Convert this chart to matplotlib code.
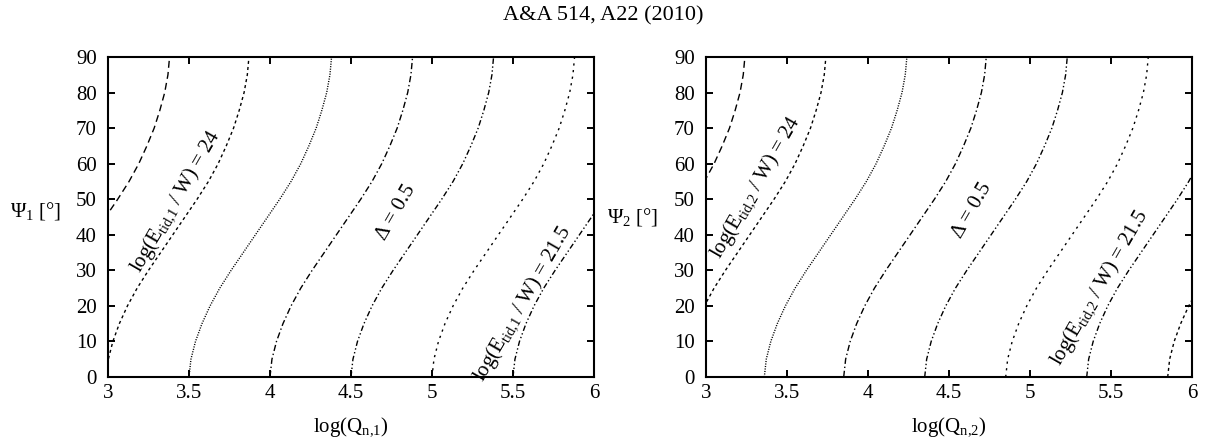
import matplotlib
matplotlib.use('Agg')
import matplotlib.pyplot as plt

plt.rcParams['font.family'] = ['Liberation Serif', 'DejaVu Serif']
plt.rcParams['mathtext.default'] = 'regular'
plt.rcParams['font.size'] = 15

# angle grid shared by all contour lines (deg)
psi = [0, 5, 10, 15, 20, 25, 30, 35, 40, 45, 50, 55, 60, 65, 70, 75, 80, 85, 90]

# left panel, log(Q_n,1)
left_a = [2.50, 2.512, 2.54, 2.58, 2.63, 2.69, 2.76, 2.835, 2.91, 2.985,
          3.06, 3.13, 3.19, 3.24, 3.285, 3.32, 3.35, 3.37, 3.38]
left_b = [2.99, 3.002, 3.03, 3.07, 3.12, 3.18, 3.25, 3.325, 3.40, 3.475,
          3.55, 3.62, 3.68, 3.73, 3.775, 3.81, 3.84, 3.86, 3.87]
left_c = [3.50, 3.512, 3.54, 3.58, 3.63, 3.69, 3.76, 3.835, 3.91, 3.985,
          4.06, 4.13, 4.19, 4.24, 4.285, 4.32, 4.35, 4.37, 4.38]
left_d = [4.00, 4.012, 4.04, 4.08, 4.13, 4.19, 4.26, 4.335, 4.41, 4.485,
          4.56, 4.63, 4.69, 4.74, 4.785, 4.82, 4.85, 4.87, 4.88]
left_e = [4.50, 4.512, 4.54, 4.58, 4.63, 4.69, 4.76, 4.835, 4.91, 4.985,
          5.06, 5.13, 5.19, 5.24, 5.285, 5.32, 5.35, 5.37, 5.38]
left_f = [5.00, 5.012, 5.04, 5.08, 5.13, 5.19, 5.26, 5.335, 5.41, 5.485,
          5.56, 5.63, 5.69, 5.74, 5.785, 5.82, 5.85, 5.87, 5.88]
left_g = [5.50, 5.512, 5.54, 5.58, 5.63, 5.69, 5.76, 5.835, 5.91, 5.985, 6.06]

# right panel, log(Q_n,2)
right_a = [2.36, 2.372, 2.40, 2.44, 2.49, 2.55, 2.62, 2.695, 2.77, 2.845,
           2.92, 2.99, 3.05, 3.10, 3.145, 3.18, 3.21, 3.23, 3.24]
right_b = [2.86, 2.872, 2.90, 2.94, 2.99, 3.05, 3.12, 3.195, 3.27, 3.345,
           3.42, 3.49, 3.55, 3.60, 3.645, 3.68, 3.71, 3.73, 3.74]
right_c = [3.36, 3.372, 3.40, 3.44, 3.49, 3.55, 3.62, 3.695, 3.77, 3.845,
           3.92, 3.99, 4.05, 4.10, 4.145, 4.18, 4.21, 4.23, 4.24]
right_d = [3.85, 3.862, 3.89, 3.93, 3.98, 4.04, 4.11, 4.185, 4.26, 4.335,
           4.41, 4.48, 4.54, 4.59, 4.635, 4.67, 4.70, 4.72, 4.73]
right_e = [4.35, 4.362, 4.39, 4.43, 4.48, 4.54, 4.61, 4.685, 4.76, 4.835,
           4.91, 4.98, 5.04, 5.09, 5.135, 5.17, 5.20, 5.22, 5.23]
right_f = [4.85, 4.862, 4.89, 4.93, 4.98, 5.04, 5.11, 5.185, 5.26, 5.335,
           5.41, 5.48, 5.54, 5.59, 5.635, 5.67, 5.70, 5.72, 5.73]
right_g = [5.35, 5.362, 5.39, 5.43, 5.48, 5.54, 5.61, 5.685, 5.76, 5.835,
           5.91, 5.98, 6.04]
right_h = [5.85, 5.862, 5.89, 5.93, 5.98, 6.04]

x_ticks = [3, 3.5, 4, 4.5, 5, 5.5, 6]
x_tick_labels = ['3', '3.5', '4', '4.5', '5', '5.5', '6']
y_ticks = [0, 10, 20, 30, 40, 50, 60, 70, 80, 90]

# gnuplot-like line types
styles = {
    'dash': (0, (5, 3)),
    'short': (0, (2.2, 2.2)),
    'dot': (0, (0.8, 1.0)),
    'dashdot': (0, (4.5, 2, 1, 2)),
    'dashdotdot': (0, (4, 1.8, 1, 1.8, 1, 1.8)),
    'sparse': (0, (1.6, 3.2)),
}

left_lines = [(left_a, 'dash'), (left_b, 'short'), (left_c, 'dot'), (left_d, 'dashdot'),
              (left_e, 'dashdotdot'), (left_f, 'sparse'), (left_g, 'dashdotdot')]
right_lines = [(right_a, 'dash'), (right_b, 'short'), (right_c, 'dot'), (right_d, 'dashdot'),
               (right_e, 'dashdotdot'), (right_f, 'sparse'), (right_g, 'dashdotdot'),
               (right_h, 'short')]

fig = plt.figure(figsize=(12.06, 4.41), dpi=100)
fig.text(0.5, 1 - 16 / 441, 'A&A 514, A22 (2010)', ha='center', va='center', fontsize=16)

ax1 = fig.add_axes([108 / 1206, 64 / 441, 486 / 1206, 320 / 441])
ax2 = fig.add_axes([706 / 1206, 64 / 441, 486 / 1206, 320 / 441])


def setup(ax, idx):
    ax.set_xlim(3, 6)
    ax.set_ylim(0, 90)
    ax.set_xticks(x_ticks)
    ax.set_xticklabels(x_tick_labels)
    ax.set_yticks(y_ticks)
    ax.tick_params(direction='in', length=5, width=1.4, top=True, right=True,
                   labelsize=15)
    ax.tick_params(axis='y', pad=8)
    ax.tick_params(axis='x', pad=5)
    for sp in ax.spines.values():
        sp.set_linewidth(1.5)
    ax.set_xlabel(f'log(Q$_{{n{{,}}{idx}}}$)', fontsize=15, va='center')
    ax.xaxis.set_label_coords(0.5, -0.156)
    ax.set_ylabel(f'Ψ$_{idx}$ [°]', fontsize=15, rotation=0, ha='center', va='center')


setup(ax1, 1)
setup(ax2, 2)
ax1.yaxis.set_label_coords(-0.148, 0.52)
ax2.yaxis.set_label_coords(-0.15, 0.5)

for xs, st in left_lines:
    ax1.plot(xs, psi[:len(xs)], color='black', lw=1.0, linestyle=styles[st])
for xs, st in right_lines:
    ax2.plot(xs, psi[:len(xs)], color='black', lw=1.0, linestyle=styles[st])

rot = 60
ax1.text(3.42, 49.5, 'log(E$_{tid{,}1}$ / W) = 24', rotation=rot, rotation_mode='anchor',
         ha='center', va='center', fontsize=15)
ax1.text(4.78, 46.4, 'Δ = 0.5', rotation=rot, rotation_mode='anchor',
         ha='center', va='center', fontsize=15)
ax1.text(5.56, 20.5, 'log(E$_{tid{,}1}$ / W) = 21.5', rotation=rot, rotation_mode='anchor',
         ha='center', va='center', fontsize=15)

ax2.text(3.31, 53.4, 'log(E$_{tid{,}2}$ / W) = 24', rotation=rot, rotation_mode='anchor',
         ha='center', va='center', fontsize=15)
ax2.text(4.645, 46.8, 'Δ = 0.5', rotation=rot, rotation_mode='anchor',
         ha='center', va='center', fontsize=15)
ax2.text(5.43, 25.2, 'log(E$_{tid{,}2}$ / W) = 21.5', rotation=rot, rotation_mode='anchor',
         ha='center', va='center', fontsize=15)

fig.savefig('out.png', dpi=100)
